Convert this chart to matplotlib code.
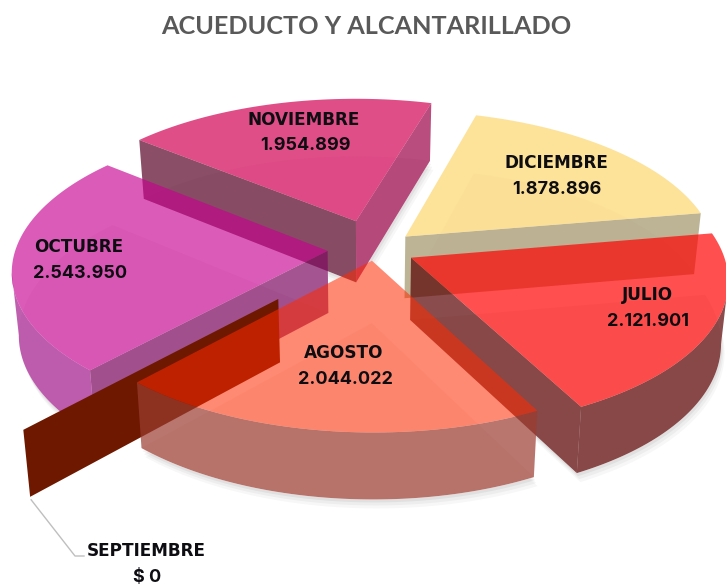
import numpy as np
import matplotlib
matplotlib.use('Agg')
import matplotlib.pyplot as plt
from matplotlib.patches import Polygon

title = 'ACUEDUCTO Y ALCANTARILLADO'
months = ['JULIO', 'AGOSTO', 'SEPTIEMBRE', 'OCTUBRE', 'NOVIEMBRE', 'DICIEMBRE']
values = [2121901, 2044022, 0, 2543950, 1954899, 1878896]

# layout / style (pixel space of the 726x584 canvas)
H = [315.61, 0.2169, 375.03, -16.607, -111.21, 249.3, 0.021303, 0.13142]
START = 88.964
EXPLODE = [0.1277, 0.0780, 0.4426, 0.1524, 0.2076, 0.1328]
TOP = [((255, 0, 0), .69), ((255, 42, 0), .55), ((110, 24, 0), 1.0),
       ((200, 0, 144), .64), ((211, 3, 86), .70), ((252, 207, 87), .60)]
WALL = [((89, 0, 0), .70), ((162, 69, 48), .70), ((110, 24, 0), 1.0),
        ((126, 12, 97), .70), ((88, 4, 39), .70), ((162, 148, 105), .70)]
OUTER = [((89, 0, 0), .70), ((155, 60, 48), .70), ((110, 24, 0), 1.0),
         ((165, 28, 142), .70), ((88, 4, 39), .70), ((162, 148, 105), .70)]
END_WALL = {4: ((154, 2, 71), .70)}
LABEL_POS = [(647, 307), (344, 365), (146, 563), (79, 259), (304, 132), (556, 175)]
ORDER = [4, 5, 3, 0, 2, 1]


def rgba(c, a):
    return (c[0] / 255, c[1] / 255, c[2] / 255, a)


def proj(u, v):
    u, v = np.asarray(u, float), np.asarray(v, float)
    w = H[6] * u + H[7] * v + 1
    return (H[0] * u + H[1] * v + H[2]) / w, (H[3] * u + H[4] * v + H[5]) / w, w


def drop(x, y, w):
    return x - 0.02 * (x - 365), y + 62 / np.sqrt(w)


fig = plt.figure(figsize=(7.26, 5.84), dpi=100)
ax = fig.add_axes([0, 0, 1, 1])
ax.set_xlim(0, 726)
ax.set_ylim(584, 0)
ax.axis('off')

fractions = np.array(values, float) / sum(values) * 360
edges = START + np.concatenate([[0], np.cumsum(fractions)])

geom = []
for i in range(len(values)):
    a1, a2 = edges[i], edges[i + 1]
    mid = np.radians((a1 + a2) / 2)
    ox, oy = EXPLODE[i] * np.sin(mid), EXPLODE[i] * np.cos(mid)
    th = np.radians(np.linspace(a1, a2, max(int(a2 - a1) * 2, 2)))
    ax_, ay_, aw_ = proj(ox, oy)
    mx, my, _ = proj(ox + .6 * np.sin(mid), oy + .6 * np.cos(mid))
    xs, ys, ws = proj(ox + np.sin(th), oy + np.cos(th))
    geom.append(dict(apex=(float(ax_), float(ay_), float(aw_)), arc=(xs, ys, ws), mid=(float(mx), float(my))))

# soft drop shadow under the solid slices
for i in ORDER:
    if values[i] == 0:
        continue
    g = geom[i]
    xs, ys, ws = g['arc']
    ax0, ay0, aw0 = g['apex']
    bx, by = drop(np.r_[ax0, xs], np.r_[ay0, ys], np.r_[aw0, ws])
    for off, al in [(9, .03), (6, .04), (3, .05)]:
        ax.add_patch(Polygon(np.c_[bx + off * .4, by + off], closed=True, fc=(0, 0, 0, al), ec='none', zorder=1))


def put(pts, color, zo):
    # white backing hides the shadow behind the translucent slice
    ax.add_patch(Polygon(pts, closed=True, fc='white', ec='none', zorder=1.5))
    ax.add_patch(Polygon(pts, closed=True, fc=color, ec='none', zorder=zo))


z = 2
for i in ORDER:
    g = geom[i]
    xs, ys, ws = g['arc']
    ax0, ay0, aw0 = g['apex']
    bx, by = drop(xs, ys, ws)
    abx, aby = drop(ax0, ay0, aw0)
    wc, wa = WALL[i]
    tc, ta = TOP[i]

    if values[i] == 0:
        put([(ax0, ay0), (xs[0], ys[0]), (bx[0], by[0]), (abx, aby)], rgba(wc, wa), z)
        z += 1
        continue

    # floor of the slice, faintly visible through the top
    put(np.c_[np.r_[abx, bx], np.r_[aby, by]], rgba(wc, .05), z)
    z += 1
    # radial walls facing the viewer
    mx, my = g['mid']
    for k in (0, -1):
        px, py = xs[k], ys[k]
        line_y = ay0 + (py - ay0) * (mx - ax0) / (px - ax0)
        if line_y > my:
            c, a = END_WALL.get(i, WALL[i]) if k == -1 else WALL[i]
            put([(ax0, ay0), (px, py), (bx[k], by[k]), (abx, aby)], rgba(c, a), z)
            z += 1
    # outer wall where the rim runs right to left (front of the pie)
    vis = np.r_[np.diff(xs) < 0, False]
    vis[1:] |= vis[:-1].copy()
    if vis.sum() > 1:
        oc, oa = OUTER[i]
        put(np.c_[np.r_[xs[vis], bx[vis][::-1]], np.r_[ys[vis], by[vis][::-1]]], rgba(oc, oa), z)
        z += 1
    # top face
    put(np.c_[np.r_[ax0, xs], np.r_[ay0, ys]], rgba(tc, ta), z)
    z += 1

# leader line of the empty slice
sx, sy = drop(geom[2]['arc'][0][0], geom[2]['arc'][1][0], geom[2]['arc'][2][0])
ax.plot([float(sx) + 1, 75, 84], [float(sy) + 3, 556, 556], color='#bfbfbf', lw=1, zorder=z)
z += 1

name_font = dict(family='DejaVu Sans', fontweight='bold', fontsize=12.2, color='#0d0d12',
                 ha='center', va='center', zorder=z)
num_font = dict(family='Inter', fontweight='bold', fontsize=13, color='#0d0d12',
                ha='center', va='center', zorder=z)
for i, (name, val) in enumerate(zip(months, values)):
    x, y = LABEL_POS[i]
    txt = f'{val:,}'.replace(',', '.') if val else '$ 0'
    ax.text(x, y - 12, name, **name_font)
    ax.text(x + 1, y + 14, txt, **num_font)

ax.text(366, 27, title, family='Lato', fontweight='bold', fontsize=18.2, color='#595959',
        ha='center', va='center', zorder=z)

fig.savefig('out.png', dpi=100)
